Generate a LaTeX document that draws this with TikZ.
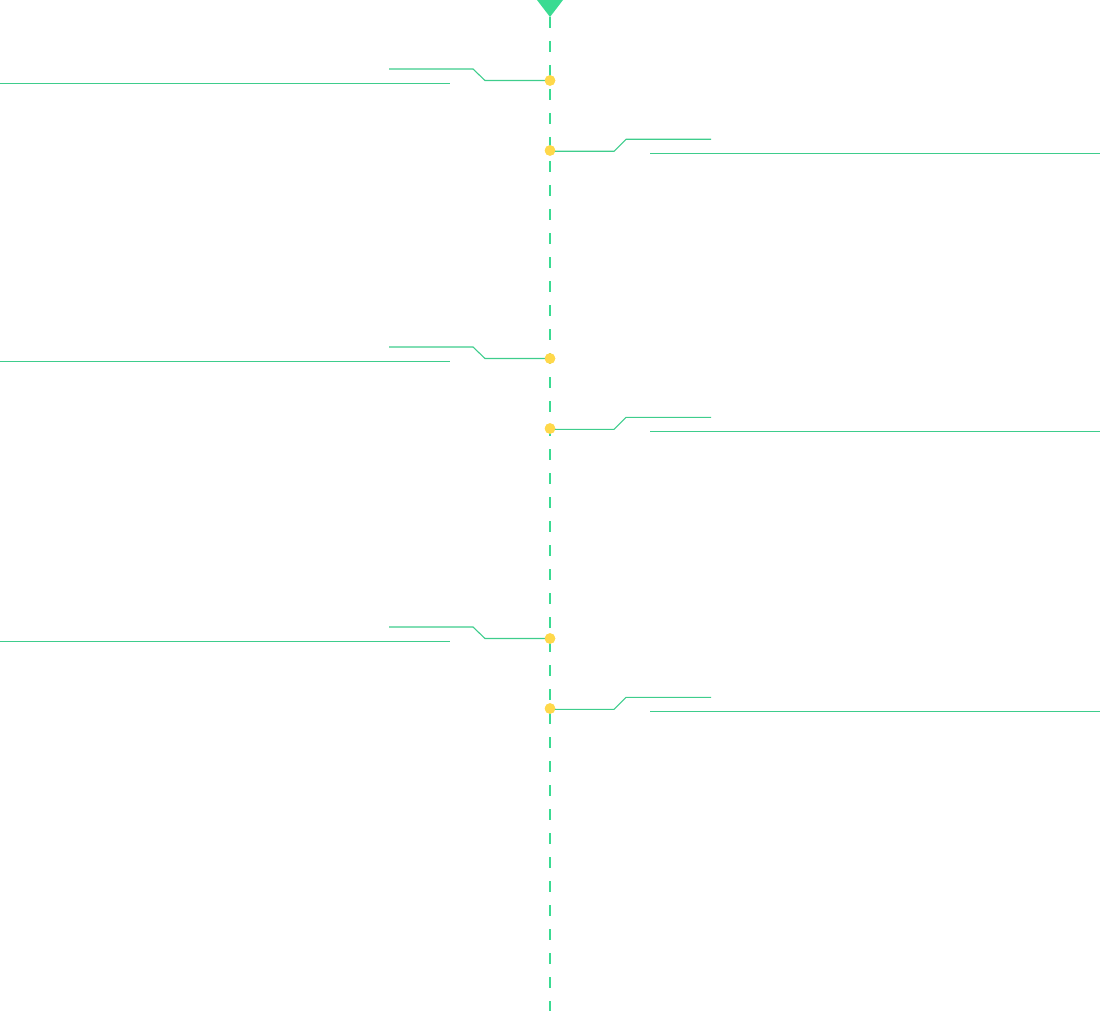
\documentclass[tikz,border=0pt]{standalone}
\definecolor{tlgreen}{RGB}{58,219,146}
\definecolor{tlline}{RGB}{62,205,140}
\definecolor{tldot}{RGB}{255,216,74}
\tikzset{
  axisline/.style={draw=tlgreen, line width=1.2pt, dash pattern=on 11pt off 13pt},
  leader/.style={draw=tlline, line width=1.1pt},
  dotmark/.style={circle, fill=tldot, draw=none, minimum size=10.5pt, inner sep=0pt},
  headtri/.style={fill=tlgreen, draw=none}
}
\begin{document}
\begin{tikzpicture}[x=1pt,y=-1pt]
\useasboundingbox (0,0) rectangle (1100,1011);
% axis
\coordinate (top) at (550,17);
\coordinate (bottom) at (550,1011);
\draw[axisline] (top) -- (bottom);
\fill[headtri] (537,0) -- (563,0) -- (top) -- cycle;
% left items
\foreach \i/\y in {a/80.5,c/358.5,e/638.5}{
  \node[dotmark] (d\i) at (550,\y) {};
  \coordinate (k\i) at (485,\y);
  \coordinate (j\i) at (473,\y-11.5);
  \coordinate (s\i) at (389,\y-11.5);
  \coordinate (l\i) at (0,\y+3);
  \coordinate (r\i) at (450,\y+3);
  \draw[leader] (d\i.center) -- (k\i) -- (j\i) -- (s\i);
  \draw[leader] (l\i) -- (r\i);
  \node[dotmark] at (d\i) {};
}
% right items
\foreach \i/\y in {b/150.5,d/428.5,f/708.5}{
  \node[dotmark] (d\i) at (550,\y) {};
  \coordinate (k\i) at (614,\y+0.8);
  \coordinate (j\i) at (626,\y-11.2);
  \coordinate (s\i) at (711,\y-11.2);
  \coordinate (l\i) at (650,\y+2.8);
  \coordinate (r\i) at (1100,\y+2.8);
  \draw[leader] ([yshift=-0.8pt]d\i.center) -- (k\i) -- (j\i) -- (s\i);
  \draw[leader] (l\i) -- (r\i);
  \node[dotmark] at (d\i) {};
}
\end{tikzpicture}
\end{document}
